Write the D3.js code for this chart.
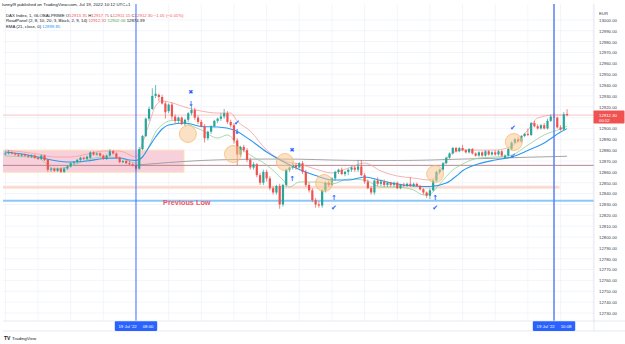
<!DOCTYPE html>
<html>
<head>
<meta charset="utf-8">
<script src="https://cdn.jsdelivr.net/npm/d3@7"></script>
<style>
body{margin:0;background:#fff;}
svg{display:block;font-family:"Liberation Sans",Arial,sans-serif;}
</style>
</head>
<body>
<div id="chart"></div>
<script>
// 1 minute candles, first one at 07:20, [open, high, low, close]
var firstCandle = '07:20'
var candles = [
[12876,12879,12875,12877],[12877,12880,12876,12878],[12878,12879,12876,12877],[12877,12878,12875,12876],[12876,12877,12874,12875],
[12875,12877,12874,12876],[12876,12877,12874,12875],[12875,12876,12873,12874],[12874,12876,12873,12875],[12875,12876,12872,12873],
[12873,12874,12871,12872],[12872,12876,12871,12875],[12875,12876,12870,12871],[12871,12872,12860,12862],[12862,12864,12860,12863],
[12863,12864,12860,12861],[12861,12864,12860,12863],[12863,12864,12859,12860],[12860,12864,12859,12863],[12863,12866,12862,12865],
[12865,12869,12864,12868],[12868,12870,12866,12869],[12869,12872,12868,12871],[12871,12874,12870,12873],[12873,12874,12871,12872],
[12872,12875,12871,12874],[12873,12879,12872,12878],[12878,12879,12875,12876],[12876,12878,12875,12877],[12877,12878,12874,12875],
[12875,12876,12871,12872],[12872,12876,12871,12875],[12875,12881,12874,12879],[12879,12880,12876,12877],[12877,12878,12872,12873],
[12873,12874,12868,12869],[12869,12871,12868,12870],[12870,12871,12867,12868],[12868,12870,12866,12867],[12867,12868,12865,12866],
[12866,12867,12861,12863],[12863,12883,12862,12881],[12881,12894,12880,12893],[12893,12910,12892,12909],[12909,12920,12907,12918],
[12918,12937,12917,12930],[12930,12940,12928,12932],[12931,12932,12925,12929],[12929,12931,12922,12923],[12923,12925,12909,12915],
[12916,12923,12914,12922],[12922,12924,12908,12911],[12911,12913,12905,12907],[12907,12911,12905,12910],[12910,12911,12903,12904],
[12904,12909,12902,12908],[12908,12915,12906,12914],[12914,12921,12912,12917],[12917,12919,12908,12910],[12910,12912,12904,12906],
[12906,12908,12901,12902],[12902,12904,12887,12891],[12891,12898,12889,12897],[12897,12903,12895,12902],[12902,12908,12901,12907],
[12907,12910,12905,12909],[12909,12914,12907,12911],[12911,12918,12909,12914],[12914,12916,12904,12906],[12906,12908,12901,12903],
[12903,12905,12886,12889],[12889,12891,12866,12876],[12876,12884,12874,12883],[12883,12885,12878,12880],[12880,12882,12869,12871],
[12871,12873,12862,12864],[12864,12869,12862,12867],[12867,12868,12855,12857],[12857,12859,12848,12850],[12850,12862,12848,12860],
[12860,12862,12851,12854],[12854,12856,12843,12845],[12845,12847,12839,12841],[12841,12848,12839,12847],[12847,12849,12826,12830],
[12830,12849,12828,12848],[12848,12863,12846,12862],[12862,12865,12860,12864],[12864,12868,12862,12866],[12866,12868,12862,12864],
[12864,12869,12863,12868],[12868,12870,12858,12860],[12860,12862,12846,12848],[12848,12850,12841,12843],[12843,12845,12832,12834],
[12834,12836,12827,12830],[12830,12833,12827,12829],[12829,12844,12827,12843],[12843,12851,12841,12850],[12850,12852,12846,12848],
[12848,12855,12847,12854],[12854,12861,12852,12860],[12860,12863,12858,12862],[12862,12864,12857,12858],[12858,12861,12856,12860],
[12860,12863,12857,12862],[12862,12865,12860,12864],[12864,12866,12860,12862],[12862,12871,12860,12865],[12865,12871,12856,12857],
[12857,12859,12849,12851],[12851,12853,12844,12845],[12845,12847,12839,12841],[12841,12853,12839,12852],[12852,12855,12847,12849],
[12849,12853,12847,12851],[12851,12853,12846,12848],[12848,12851,12846,12850],[12850,12851,12846,12848],[12848,12851,12846,12850],
[12850,12851,12844,12845],[12845,12849,12844,12848],[12848,12850,12846,12847],[12847,12850,12846,12849],[12849,12855,12846,12847],
[12847,12850,12846,12849],[12849,12850,12846,12847],[12847,12848,12843,12844],[12844,12845,12839,12841],[12841,12842,12836,12838],
[12838,12845,12835,12843],[12843,12853,12842,12852],[12852,12861,12851,12860],[12860,12863,12858,12862],[12862,12869,12861,12868],
[12868,12874,12867,12873],[12873,12878,12872,12877],[12877,12883,12876,12882],[12882,12883,12878,12879],[12879,12883,12878,12882],
[12882,12885,12879,12880],[12880,12881,12877,12878],[12878,12882,12877,12881],[12881,12882,12876,12877],[12877,12878,12874,12875],
[12875,12879,12874,12878],[12878,12879,12874,12875],[12875,12880,12874,12879],[12879,12880,12875,12876],[12876,12879,12875,12878],
[12878,12880,12875,12876],[12876,12880,12875,12879],[12879,12880,12874,12875],[12873,12876,12872,12875],[12875,12882,12874,12881],
[12881,12888,12880,12887],[12887,12891,12886,12890],[12890,12892,12887,12888],[12888,12894,12887,12893],[12893,12896,12892,12895],
[12895,12900,12893,12894],[12894,12906,12893,12905],[12905,12907,12901,12902],[12902,12904,12899,12900],[12900,12904,12899,12903],
[12903,12905,12899,12900],[12900,12909,12899,12907],[12907,12913,12906,12911],[12911,12914,12909,12910],[12910,12911,12900,12901],
[12901,12903,12898,12899],[12899,12915,12898,12913],[12913.35,12917.75,12911.15,12912.30]
]

// EMA (21, close, 0)
var emaPoints = [
['07:20',12878.3],['07:25',12876.4],['07:30',12873.7],['07:35',12870.5],['07:40',12869.1],['07:45',12870.0],
['07:50',12872.3],['07:55',12872.8],['07:58',12870.9],['08:00',12870.5],['08:02',12873.7],['08:04',12882.9],
['08:06',12892.1],['08:08',12899.5],['08:10',12903.2],['08:15',12905.0],['08:20',12901.8],['08:25',12901.3],
['08:30',12898.6],['08:35',12889.3],['08:40',12878.3],['08:45',12869.5],['08:50',12862.2],['08:55',12856.6],
['09:00',12852.5],['09:05',12852.5],['09:10',12855.3],['09:15',12852.0],['09:20',12848.8],['09:25',12847.0],
['09:30',12846.5],['09:35',12849.7],['09:38',12856.0],['09:40',12861.0],['09:45',12867.5],['09:50',12870.9],
['09:55',12873.7],['10:00',12879.7],['10:05',12886.6],['10:10',12896.7],['10:12',12899.85]
]
// RoadPanel lines
var roadUpper = [
['07:20',12880.1],['07:30',12876.4],['07:35',12873.7],['07:40',12873.7],['07:45',12876.4],['07:50',12879.2],
['07:55',12879.2],['08:00',12873.7],['08:02',12886.6],['08:04',12904.1],['08:06',12920.7],['08:08',12925.3],
['08:10',12924.4],['08:15',12919.7],['08:20',12916.0],['08:25',12914.2],['08:29',12914.2],['08:31',12906.8],
['08:35',12897.6],['08:40',12880.1],['08:45',12870.5],['08:50',12867.2],['08:55',12862.6],['09:00',12859.0],
['09:05',12863.5],['09:10',12868.2],['09:15',12860.8],['09:20',12856.2],['09:25',12854.3],['09:30',12852.5],
['09:33',12859.9],['09:36',12875.5],['09:40',12880.1],['09:50',12880.1],['09:55',12883.8],['10:00',12898.6],
['10:03',12909.6],['10:08',12912.4],['10:12',12912.32]
]
var roadLower = [
['07:20',12874.6],['07:30',12872.8],['07:33',12866.3],['07:35',12862.6],['07:40',12865.4],['07:45',12870.9],
['07:50',12873.7],['07:55',12872.8],['08:00',12868.2],['08:02',12873.7],['08:04',12883.8],['08:06',12896.7],
['08:08',12903.2],['08:10',12906.8],['08:13',12907.7],['08:15',12905.0],['08:20',12898.6],['08:25',12891.2],
['08:28',12894.0],['08:32',12882.0],['08:35',12875.5],['08:40',12866.3],['08:45',12852.5],['08:47',12846.0],
['08:50',12850.7],['08:55',12850.7],['09:00',12848.8],['09:05',12853.4],['09:10',12852.5],['09:15',12846.0],
['09:20',12846.0],['09:25',12843.3],['09:28',12838.7],['09:30',12839.6],['09:33',12848.8],['09:37',12861.7],
['09:40',12867.2],['09:45',12872.8],['09:50',12873.7],['09:55',12875.5],['10:00',12884.7],['10:05',12894.0],
['10:10',12899.5],['10:12',12902.06]
]
var roadBlack = [
['08:00',12866.3],['08:10',12868.6],['08:20',12870.5],['08:30',12871.4],['08:40',12871.8],['08:50',12871.7],
['09:00',12870.9],['09:10',12870.5],['09:20',12870.5],['09:30',12870.9],['09:40',12871.8],['09:50',12872.5],
['10:00',12873.5],['10:12',12874.39]
]

// drawings
var zoneTimes = ['07:10','08:14:42']
var zonePrices = [12880.1, 12859.6]
var bandTimes = ['07:10','10:09:36']
var bandPrices = [12847.0, 12844.7]
var prevLow = 12833.4
var maroonLevel = 12866
var prevLowText = ['08:08:18', 12829.3, 'Previous Low']
var circleTimes = ['08:15:54','08:29:42','08:45:36','08:57:36','09:31:36','09:55:42']
var circlePrices = [12894.9, 12876.4, 12869.1, 12849.7, 12858.0, 12887.5]
var markTimes = ['08:16:48','08:16:48','08:30:54','08:30:54','08:47:48','08:47:48','09:00:36','09:00:36','09:31:36','09:31:36','09:55:24','09:55:24']
var markPrices = [12933.5, 12923.4, 12905.0, 12897.6, 12880.1, 12854.3, 12836.8, 12826.7, 12836.8, 12826.7, 12900.4, 12875.5]
var markGlyphs = ['✖','↓','✔','↓','✖','↑','↑','✔','↑','✔','✔','↙']
var vLines = ['08:00','10:08']
var vLineLabels = ["19 Jul '22", "19 Jul '22"]

// axes (labels hidden by the blue / red boxes are left out)
var priceTicks = [12730,12740,12750,12760,12770,12780,12790,12800,12810,12820,12830,12840,12850,12860,
  12870,12880,12890,12900,12920,12930,12940,12950,12960,12970,12980,12990,13000]
var timeTicks = ['07:20','07:30','07:40','07:50','08:10','08:20','08:30','08:40','08:50','09:00',
  '09:10','09:20','09:30','09:40','09:50','10:00','10:20']
var gridTimes = ['07:20','07:30','07:40','07:50','08:00','08:10','08:20','08:30','08:40','08:50','09:00',
  '09:10','09:20','09:30','09:40','09:50','10:00','10:10','10:20']
var boldTicks = ['09:00','10:00']
var lastPrice = 12912.30
var countdown = '00:52'

var header = 'lunnyl9 published on TradingView.com, Jul 19, 2022 10:12 UTC+1'

function parseT(s) {
  var p = s.split(':');
  return new Date(2022, 6, 19, +p[0], +p[1], +(p[2] || 0));
}

var plotL = 3, plotR = 594, plotT = 4, plotB = 321;
var up = '#26a69a', down = '#ef5350';

var svg = d3.select('#chart').append('svg')
  .attr('width', 625).attr('height', 344);

var xScale = d3.scaleTime()
  .domain([parseT('07:20'), parseT('10:20')])
  .range([5.36, 593.2]);
var yScale = d3.scaleLinear()
  .domain([12730, 13000])
  .range([313, 19.9]);

svg.append('clipPath').attr('id', 'plotclip')
  .append('rect').attr('x', plotL).attr('y', plotT).attr('width', plotR - plotL).attr('height', plotB - plotT);

var g = svg.append('g').attr('clip-path', 'url(#plotclip)');

// grid
g.selectAll('.hgrid').data(yScale.ticks(27)).enter().append('line')
  .attr('x1', plotL).attr('x2', plotR)
  .attr('y1', function(d) {return yScale(d);}).attr('y2', function(d) {return yScale(d);})
  .attr('stroke', '#f0f3fa').attr('stroke-width', 0.8);
g.selectAll('.vgrid').data(gridTimes).enter().append('line')
  .attr('x1', function(d) {return xScale(parseT(d));}).attr('x2', function(d) {return xScale(parseT(d));})
  .attr('y1', plotT).attr('y2', plotB)
  .attr('stroke', '#f0f3fa').attr('stroke-width', 0.8);

// zone + band
g.append('rect')
  .attr('x', xScale(parseT(zoneTimes[0]))).attr('y', yScale(zonePrices[0]))
  .attr('width', xScale(parseT(zoneTimes[1])) - xScale(parseT(zoneTimes[0])))
  .attr('height', yScale(zonePrices[1]) - yScale(zonePrices[0]))
  .attr('fill', '#f8d0dc').attr('stroke', '#fde6b4').attr('stroke-width', 0.9);
g.append('rect')
  .attr('x', xScale(parseT(bandTimes[0]))).attr('y', yScale(bandPrices[0]))
  .attr('width', xScale(parseT(bandTimes[1])) - xScale(parseT(bandTimes[0])))
  .attr('height', yScale(bandPrices[1]) - yScale(bandPrices[0]))
  .attr('fill', '#f9d6df').attr('stroke', '#fdeac0').attr('stroke-width', 0.7);

// horizontal levels
function hline(price, color, w) {
  g.append('line').attr('x1', plotL).attr('x2', plotR)
    .attr('y1', yScale(price)).attr('y2', yScale(price))
    .attr('stroke', color).attr('stroke-width', w);
}
hline(maroonLevel, '#b07a86', 0.9);
hline(prevLow, '#8cc8f7', 1.8);
hline(lastPrice, '#f6b9b9', 0.8);

g.append('text')
  .attr('x', xScale(parseT(prevLowText[0]))).attr('y', yScale(prevLowText[1]))
  .attr('fill', '#f05560').attr('font-weight', 'bold').attr('font-size', 7.3)
  .text(prevLowText[2]);

// indicator lines
var line = d3.line()
  .x(function(d) {return xScale(parseT(d[0]));})
  .y(function(d) {return yScale(d[1]);})
  .curve(d3.curveMonotoneX);
g.append('path').attr('d', line(roadBlack)).attr('fill', 'none').attr('stroke', '#9a9a9a').attr('stroke-width', 0.9);
g.append('path').attr('d', line(roadUpper)).attr('fill', 'none').attr('stroke', '#f3a0a0').attr('stroke-width', 0.8);
g.append('path').attr('d', line(roadLower)).attr('fill', 'none').attr('stroke', '#93cf98').attr('stroke-width', 0.8);
g.append('path').attr('d', line(emaPoints)).attr('fill', 'none').attr('stroke', '#2b98f0').attr('stroke-width', 1.1);

// candles
var t0 = parseT(firstCandle);
function candleX(i) {return xScale(d3.timeMinute.offset(t0, i));}
var cg = g.append('g');
cg.selectAll('.wick').data(candles).enter().append('line')
  .attr('x1', function(d, i) {return candleX(i);}).attr('x2', function(d, i) {return candleX(i);})
  .attr('y1', function(d) {return yScale(d[1]);}).attr('y2', function(d) {return yScale(d[2]);})
  .attr('stroke', function(d) {return d[3] >= d[0] ? up : down;}).attr('stroke-width', 0.7);
cg.selectAll('.body').data(candles).enter().append('rect')
  .attr('x', function(d, i) {return candleX(i) - 1.1;})
  .attr('width', 2.2)
  .attr('y', function(d) {return yScale(Math.max(d[0], d[3]));})
  .attr('height', function(d) {return Math.max(0.7, Math.abs(yScale(d[0]) - yScale(d[3])));})
  .attr('fill', function(d) {return d[3] >= d[0] ? up : down;});

// circles
g.selectAll('.circ').data(circleTimes).enter().append('circle')
  .attr('cx', function(d) {return xScale(parseT(d));})
  .attr('cy', function(d, i) {return yScale(circlePrices[i]);})
  .attr('r', 8.5)
  .attr('fill', '#f9c68c').attr('fill-opacity', 0.5)
  .attr('stroke', '#f6b565').attr('stroke-width', 0.7);

// markers
g.selectAll('.mark').data(markGlyphs).enter().append('text')
  .attr('x', function(d, i) {return xScale(parseT(markTimes[i]));})
  .attr('y', function(d, i) {return yScale(markPrices[i]);})
  .attr('dy', '0.35em')
  .attr('text-anchor', 'middle')
  .attr('font-family', 'DejaVu Sans')
  .attr('font-size', function(d) {return d == '✖' ? 6 : 7;})
  .attr('font-weight', 'bold')
  .attr('fill', '#2962ff')
  .text(function(d) {return d;});

// vertical lines
g.selectAll('.vl').data(vLines).enter().append('line')
  .attr('x1', function(d) {return xScale(parseT(d));}).attr('x2', function(d) {return xScale(parseT(d));})
  .attr('y1', plotT).attr('y2', plotB)
  .attr('stroke', function(d, i) {return i == 0 ? '#2962ff' : '#5b7ff5';})
  .attr('stroke-width', function(d, i) {return i == 0 ? 0.9 : 1.5;});

// frame lines
svg.append('line').attr('x1', plotL).attr('x2', 625).attr('y1', plotB).attr('y2', plotB).attr('stroke', '#e0e3eb').attr('stroke-width', 0.8);
svg.append('line').attr('x1', plotL).attr('x2', 625).attr('y1', 331).attr('y2', 331).attr('stroke', '#e0e3eb').attr('stroke-width', 0.8);
svg.append('line').attr('x1', plotR).attr('x2', plotR).attr('y1', plotT).attr('y2', 331).attr('stroke', '#e0e3eb').attr('stroke-width', 0.8);

// time axis
svg.append('clipPath').attr('id', 'timeclip')
  .append('rect').attr('x', plotL).attr('y', plotB).attr('width', plotR - plotL).attr('height', 12);
var xAxis = d3.axisBottom(xScale)
  .tickValues(timeTicks.map(parseT))
  .tickSize(0).tickPadding(0)
  .tickFormat(d3.timeFormat('%H:%M'));
var xg = svg.append('g')
  .attr('clip-path', 'url(#timeclip)')
  .attr('transform', 'translate(0,' + 324.5 + ')')
  .call(xAxis);
xg.select('.domain').remove();
xg.selectAll('text')
  .attr('font-size', 4.3).attr('font-family', '"Liberation Sans",Arial,sans-serif')
  .attr('fill', '#3a3e4a')
  .attr('font-weight', function(d) {return boldTicks.indexOf(d3.timeFormat('%H:%M')(d)) >= 0 ? 'bold' : 'normal';});

// time label boxes for the vertical lines
vLines.forEach(function(t, i) {
  var cx = xScale(parseT(t));
  var bg = svg.append('g');
  bg.append('rect').attr('x', cx - 21.2).attr('y', plotB + 0.3).attr('width', 42.4).attr('height', 9.6)
    .attr('fill', '#2962ff').attr('rx', 0.8);
  bg.append('text').attr('x', cx - 17.5).attr('y', plotB + 6.6)
    .attr('font-size', 4.3).attr('fill', '#fff').text(vLineLabels[i]);
  bg.append('text').attr('x', cx + 17.5).attr('y', plotB + 6.6).attr('text-anchor', 'end')
    .attr('font-size', 4.3).attr('fill', '#fff').text(t);
});

// price axis
var yAxis = d3.axisRight(yScale)
  .tickValues(priceTicks)
  .tickSize(0).tickPadding(0)
  .tickFormat(d3.format('.2f'));
var yg = svg.append('g').attr('transform', 'translate(599,0)').call(yAxis);
yg.select('.domain').remove();
yg.selectAll('text').attr('font-size', 4.3).attr('font-family', '"Liberation Sans",Arial,sans-serif').attr('fill', '#3a3e4a');
svg.append('text').attr('x', 599).attr('y', 14.5).attr('font-size', 4.3).attr('fill', '#3a3e4a').text('EUR');

var py = yScale(lastPrice);
svg.append('rect').attr('x', plotR - 0.5).attr('y', py - 4.5).attr('width', 31).attr('height', 13)
  .attr('fill', '#f05252').attr('rx', 0.8);
svg.append('text').attr('x', 599).attr('y', py + 1.6).attr('font-size', 4.3).attr('fill', '#fff')
  .text(d3.format('.2f')(lastPrice));
svg.append('text').attr('x', 599).attr('y', py + 6.8).attr('font-size', 4.3).attr('fill', '#fff')
  .text(countdown);

// header + legend
svg.append('text').attr('x', 2).attr('y', 6.3).attr('font-size', 4.4).attr('fill', '#131722').text(header);

var red = '#f0525a', green = '#4caf50', dark = '#131722', blue = '#2196f3';
var last = candles[candles.length - 1];
function legendLine(y, parts) {
  var t = svg.append('text').attr('x', 6).attr('y', y).attr('font-size', 4.3);
  parts.forEach(function(p) {
    t.append('tspan').attr('fill', p[1]).text(p[0]);
  });
}
var f2 = d3.format('.2f');
legendLine(16.6, [
  ['DAX Index, 1, GLOBALPRIME  ', dark],
  ['O', dark], [f2(last[0]) + ' ', red],
  ['H', dark], [f2(last[1]) + ' ', red],
  ['L', dark], [f2(last[2]) + ' ', red],
  ['C', dark], [f2(last[3]) + ' ', red],
  ['\u22121.05 (\u22120.01%)', red]
]);
legendLine(22.4, [
  ['RoadPanel (2, 8, 10, 20, 3, Black, 2, 9, 14)  ', dark],
  [f2(roadUpper[roadUpper.length - 1][1]) + '  ', red],
  [f2(roadLower[roadLower.length - 1][1]) + '  ', green],
  [f2(roadBlack[roadBlack.length - 1][1]), dark]
]);
legendLine(28.3, [
  ['EMA (21, close, 0)  ', dark],
  [f2(emaPoints[emaPoints.length - 1][1]), blue]
]);

// TradingView logo
svg.append('text').attr('x', 4).attr('y', 340).attr('font-size', 5).attr('font-weight', 'bold').attr('fill', '#131722').text('TV');
svg.append('text').attr('x', 12).attr('y', 340).attr('font-size', 4.4).attr('fill', '#131722').text('TradingView');
</script>
</body>
</html>
